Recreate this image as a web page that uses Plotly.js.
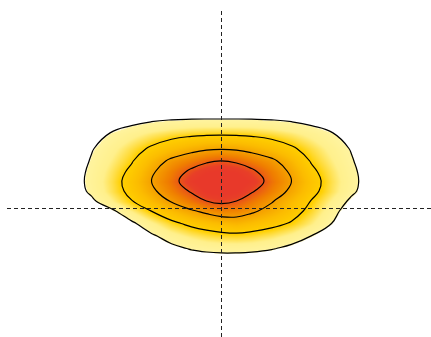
<!DOCTYPE html>
<html>
<head>
<meta charset="utf-8">
<script src="https://cdn.plot.ly/plotly-3.0.1.min.js"></script>
<style>html,body{margin:0;padding:0;background:#fff;}#chart{width:431px;height:337px;}</style>
</head>
<body>
<div id="chart"></div>
<script>
// Grid columns (x) and rows (y) of the estimated density field
var xGrid = [-3.6, -3.0, -2.6, -2.2, -1.8, -1.4, -1.0, -0.6, -0.3, 0, 0.3, 0.6, 1.0, 1.4, 1.8, 2.2, 2.6, 3.0, 3.6];
var yGrid = [-1.5, -1.1, -0.8, -0.55, -0.3, -0.05, 0.15, 0.35, 0.55, 0.75, 0.95, 1.2, 1.5, 1.8, 2.1, 2.4];

// Density values (one row per yGrid entry)
var density = [
  [0, 0, 0, 0, 0.02, 0.04, 0.07, 0.09, 0.1, 0.1, 0.1, 0.09, 0.07, 0.04, 0.02, 0, 0, 0, 0],
  [0, 0, 0, 0.03, 0.15, 0.3, 0.42, 0.5, 0.54, 0.55, 0.54, 0.5, 0.42, 0.3, 0.15, 0.03, 0, 0, 0],
  [0, 0, 0, 0.05, 0.25, 0.55, 0.84, 1.05, 1.14, 1.19, 1.19, 1.16, 1.05, 0.84, 0.55, 0.25, 0.05, 0, 0],
  [0, 0, 0, 0.08, 0.42, 0.9, 1.26, 1.54, 1.7, 1.79, 1.82, 1.76, 1.59, 1.33, 0.99, 0.55, 0.14, 0, 0],
  [0, 0, 0.07, 0.38, 0.88, 1.38, 1.84, 2.17, 2.34, 2.5, 2.61, 2.44, 2.22, 1.93, 1.5, 1.0, 0.5, 0.12, 0],
  [0, 0, 0.38, 0.88, 1.45, 2.01, 2.48, 2.91, 3.18, 3.41, 3.36, 3.13, 2.74, 2.3, 1.79, 1.21, 0.68, 0.18, 0],
  [0, 0.38, 0.88, 1.42, 1.97, 2.52, 3.07, 3.6, 4.0, 4.2, 4.0, 3.6, 3.07, 2.52, 1.97, 1.42, 0.88, 0.38, 0],
  [0.08, 0.63, 1.13, 1.65, 2.21, 2.84, 3.47, 4.1, 4.7, 4.85, 4.7, 4.1, 3.47, 2.84, 2.21, 1.65, 1.13, 0.63, 0.08],
  [0.1, 0.68, 1.18, 1.69, 2.29, 3.0, 3.67, 4.55, 5.05, 5.2, 5.05, 4.55, 3.67, 3.0, 2.29, 1.69, 1.18, 0.68, 0.1],
  [0.1, 0.65, 1.14, 1.62, 2.14, 2.86, 3.5, 4.15, 4.6, 4.75, 4.6, 4.15, 3.5, 2.86, 2.14, 1.62, 1.14, 0.65, 0.1],
  [0.05, 0.56, 1.06, 1.5, 1.94, 2.6, 3.16, 3.55, 3.85, 4.03, 3.85, 3.55, 3.16, 2.6, 1.94, 1.5, 1.06, 0.56, 0.05],
  [0.1, 0.5, 0.95, 1.34, 1.72, 2.1, 2.45, 2.72, 2.88, 2.93, 2.88, 2.72, 2.45, 2.1, 1.72, 1.34, 0.95, 0.5, 0.1],
  [0.05, 0.35, 0.7, 1.05, 1.33, 1.55, 1.72, 1.83, 1.87, 1.88, 1.87, 1.83, 1.72, 1.55, 1.33, 1.05, 0.7, 0.35, 0.05],
  [0, 0.06, 0.22, 0.45, 0.7, 0.85, 0.93, 0.96, 0.97, 0.97, 0.97, 0.96, 0.93, 0.85, 0.7, 0.45, 0.22, 0.06, 0],
  [0, 0.02, 0.08, 0.18, 0.3, 0.38, 0.42, 0.44, 0.45, 0.45, 0.45, 0.44, 0.42, 0.38, 0.3, 0.18, 0.08, 0.02, 0],
  [0, 0, 0.02, 0.04, 0.08, 0.12, 0.14, 0.15, 0.15, 0.15, 0.15, 0.15, 0.14, 0.12, 0.08, 0.04, 0.02, 0, 0]
];

// Contour levels
var levelStart = 1, levelEnd = 4, levelStep = 1;
var zMax = 5.2;

function t(z) { return z / zMax; }
var colorscale = [
  [0, '#ffffff'],
  [t(1), '#ffffff'],
  [t(1), '#fff4a0'],
  [t(1.45), '#fff08c'],
  [t(1.75), '#ffdc3c'],
  [t(1.95), '#ffd000'],
  [t(2.5), '#fcbc00'],
  [t(3.0), '#f5a000'],
  [t(3.5), '#f07f00'],
  [t(4.0), '#ea5518'],
  [t(4.3), '#e83f28'],
  [t(4.7), '#e8392a'],
  [1, '#e8392a']
];

var trace = {
  type: 'contour',
  x: xGrid,
  y: yGrid,
  z: density,
  zmin: 0,
  zmax: zMax,
  colorscale: colorscale,
  showscale: false,
  contours: {coloring: 'heatmap', start: levelStart, end: levelEnd, size: levelStep, showlines: true},
  line: {color: '#000000', width: 1.2, smoothing: 1.3},
  hoverinfo: 'skip'
};

var dashLine = {color: '#222222', width: 1, dash: '4px,3px'};
var layout = {
  width: 431,
  height: 337,
  margin: {l: 7, r: 0, t: 10, b: 0},
  paper_bgcolor: '#ffffff',
  plot_bgcolor: '#ffffff',
  showlegend: false,
  xaxis: {range: [-4.29, 4.19], visible: false, showgrid: false, zeroline: false},
  yaxis: {range: [-2.57, 3.97], visible: false, showgrid: false, zeroline: false},
  shapes: [
    {type: 'line', xref: 'x', yref: 'paper', x0: 0, x1: 0, y0: 0, y1: 1, line: dashLine, layer: 'above'},
    {type: 'line', xref: 'paper', yref: 'y', x0: 0, x1: 1, y0: 0, y1: 0, line: dashLine, layer: 'above'}
  ]
};

Plotly.newPlot('chart', [trace], layout, {staticPlot: true, displayModeBar: false});
</script>
</body>
</html>
